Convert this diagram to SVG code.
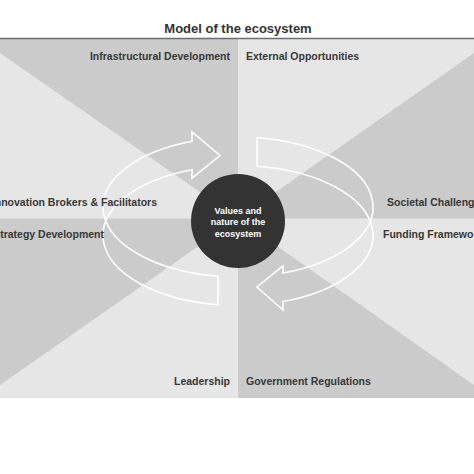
<svg xmlns="http://www.w3.org/2000/svg" width="474" height="474" viewBox="0 0 474 474">
<style>
.lbl{font-family:"Liberation Sans",Arial,sans-serif;font-weight:700;font-size:10.5px;fill:#383838}
.title{font-family:"Liberation Sans",Arial,sans-serif;font-weight:700;font-size:13px;fill:#333}
.ctr{font-family:"Liberation Sans",Arial,sans-serif;font-weight:700;font-size:9px;fill:#fff;text-anchor:middle}
.dark{fill:#cbcbcb}
.arrow{fill:none;stroke:#fff;stroke-width:1.6;stroke-linejoin:miter}
</style>
<rect width="474" height="474" fill="#fff"/>
<g id="background">
<rect x="0" y="39" width="474" height="359" fill="#e6e6e6"/>
<polygon class="dark" points="238,218.5 238,39 0,39 0,53"/>
<polygon class="dark" points="238,218.5 0,218.5 0,385"/>
<polygon class="dark" points="238,218.5 474,53 474,218.5"/>
<polygon class="dark" points="238,218.5 474,385 474,398 238,398"/>
<line x1="0" y1="38.5" x2="474" y2="38.5" stroke="#6e6e6e" stroke-width="1.6"/>
</g>
<g id="title"><text class="title" x="238" y="32.5" text-anchor="middle">Model of the ecosystem</text></g>
<g id="connectors">
<path class="arrow" d="M218,276.23 A135,70 0 0 1 192,141.19 L192,132 L220,155.5 L192,178 L192,169.69 A135,70 0 0 0 218,304.73 Z"/>
<path class="arrow" d="M257,137.7 A135,70 0 0 1 283,273 L283,266 L257,287 L283,310 L283,301.5 A135,70 0 0 0 257,166.2 Z"/>
</g>
<g id="center-node">
<circle cx="238" cy="221" r="47" fill="#333333"/>
<text class="ctr" x="238" y="214">Values and</text>
<text class="ctr" x="238" y="225.3">nature of the</text>
<text class="ctr" x="238" y="236.5">ecosystem</text>
</g>
<g id="node-infrastructural"><text class="lbl" x="230" y="60" text-anchor="end">Infrastructural Development</text></g>
<g id="node-external"><text class="lbl" x="246" y="60">External Opportunities</text></g>
<g id="node-innovation"><text class="lbl" x="157" y="206" text-anchor="end">Innovation Brokers &amp; Facilitators</text></g>
<g id="node-strategy"><text class="lbl" x="104" y="238" text-anchor="end">Strategy Development</text></g>
<g id="node-societal"><text class="lbl" x="387" y="206">Societal Challenges</text></g>
<g id="node-funding"><text class="lbl" x="383" y="238">Funding Framework</text></g>
<g id="node-leadership"><text class="lbl" x="230" y="385" text-anchor="end">Leadership</text></g>
<g id="node-government"><text class="lbl" x="246" y="385">Government Regulations</text></g>
</svg>
